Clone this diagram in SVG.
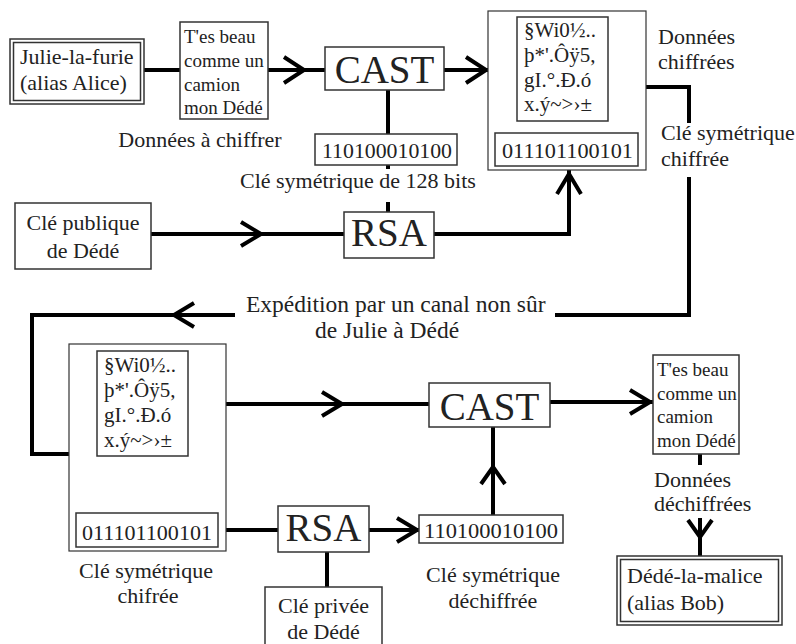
<svg xmlns="http://www.w3.org/2000/svg" width="796" height="644" viewBox="0 0 796 644" font-family="Liberation Serif">
<style>
  text { fill: #222; font-family: "Liberation Serif", "Times New Roman", serif; }
  .lbl { font-size: 22px; }
  .lbl2 { font-size: 23.5px; }
  .small { font-size: 19px; }
  .enc { font-size: 21px; }
  .key { font-size: 22px; }
  .big { font-size: 39px; text-anchor: middle; }
  .mid { text-anchor: middle; }
  .box { fill: #fff; stroke: #333; stroke-width: 1.5; }
  .thin { fill: #fff; stroke: #333; stroke-width: 1.2; }
  .ln { fill: none; stroke: #000; stroke-width: 4; }
  .chev { fill: none; stroke: #000; stroke-width: 4; stroke-linejoin: miter; }
</style>
<rect width="796" height="644" fill="#fff"/>

<g id="connectors">
  <path class="ln" d="M144,70 H180"/>
  <path class="ln" d="M268,70 H325"/>
  <polyline class="chev" points="284,57 304,70 284,83"/>
  <path class="ln" d="M444,70 H488"/>
  <polyline class="chev" points="466,57 486,70 466,83"/>
  <path class="ln" d="M388,90 V134"/>
  <path class="ln" d="M388,165 V169"/>
  <path class="ln" d="M388,202 V212"/>
  <path class="ln" d="M151,234 H344"/>
  <polyline class="chev" points="241,222 261,234 241,246"/>
  <path class="ln" d="M434,234 H569 V170"/>
  <polyline class="chev" points="557,194 569,174 581,194"/>
  <path class="ln" d="M646,87 H689 V123"/>
  <path class="ln" d="M689,177 V315 H555"/>
  <path class="ln" d="M235,315 H32 V454 H69"/>
  <polyline class="chev" points="194,303 174,315 194,327"/>
  <path class="ln" d="M226,404 H429"/>
  <polyline class="chev" points="322,392 342,404 322,416"/>
  <path class="ln" d="M550,402 H653"/>
  <polyline class="chev" points="630,390 650,402 630,414"/>
  <path class="ln" d="M226,530 H278"/>
  <path class="ln" d="M369,530 H419"/>
  <polyline class="chev" points="397,518 417,530 397,542"/>
  <path class="ln" d="M327,552 V587"/>
  <path class="ln" d="M493,515 V427"/>
  <polyline class="chev" points="481,484 493,467 505,484"/>
  <path class="ln" d="M700,454 V465"/>
  <path class="ln" d="M700,518 V557"/>
  <polyline class="chev" points="688,520 700,537 712,520"/>
</g>

<g id="julie">
  <rect class="box" x="10" y="39" width="134" height="65"/>
  <rect class="box" x="13.5" y="42.5" width="127" height="58" fill="none"/>
  <text class="lbl" x="20" y="64">Julie-la-furie</text>
  <text class="lbl" x="20" y="90">(alias Alice)</text>
</g>

<g id="donnees-claires">
  <rect class="box" x="180" y="22" width="88" height="97"/>
  <text class="small" x="184" y="43">T'es beau</text>
  <text class="small" x="184" y="67">comme un</text>
  <text class="small" x="184" y="91">camion</text>
  <text class="small" x="184" y="114">mon Dédé</text>
  <text class="lbl mid" x="200" y="147">Données à chiffrer</text>
</g>

<g id="cast1">
  <rect class="box" x="325" y="47" width="119" height="43"/>
  <text class="big" x="384.5" y="83">CAST</text>
</g>

<g id="cle-sym">
  <rect class="box" x="315" y="134" width="142" height="31"/>
  <text class="key" x="322" y="158" textLength="130" lengthAdjust="spacingAndGlyphs">110100010100</text>
  <text class="lbl" x="240" y="188">Clé symétrique de 128 bits</text>
</g>

<g id="cle-publique">
  <rect class="box" x="15" y="203" width="136" height="66"/>
  <text class="lbl mid" x="83" y="230">Clé publique</text>
  <text class="lbl mid" x="83" y="258">de Dédé</text>
</g>

<g id="rsa1">
  <rect class="box" x="344" y="212" width="90" height="46"/>
  <text class="big" x="389" y="246">RSA</text>
</g>

<g id="paquet1">
  <rect class="thin" x="488" y="11" width="158" height="159"/>
  <rect class="box" x="517" y="17" width="91" height="104"/>
  <text class="enc" x="524" y="37">§Wi0½..</text>
  <text class="enc" x="524" y="62">þ*'.Ôÿ5,</text>
  <text class="enc" x="524" y="87">gI.°.Ð.ó</text>
  <text class="enc" x="524" y="111">x.ý~&gt;›±</text>
  <rect class="box" x="495" y="133" width="143" height="33"/>
  <text class="key" x="502" y="158" textLength="131" lengthAdjust="spacingAndGlyphs">011101100101</text>
  <text class="lbl" x="658" y="44">Données</text>
  <text class="lbl" x="658" y="69">chiffrées</text>
  <text class="lbl" x="661" y="140">Clé symétrique</text>
  <text class="lbl" x="661" y="166">chiffrée</text>
</g>

<g id="expedition">
  <text class="lbl2" x="246" y="312">Expédition par un canal non sûr</text>
  <text class="lbl2" x="315" y="338">de Julie à Dédé</text>
</g>

<g id="paquet2">
  <rect class="thin" x="69" y="344" width="157" height="207"/>
  <rect class="box" x="97" y="351" width="91" height="105"/>
  <text class="enc" x="104" y="372">§Wi0½..</text>
  <text class="enc" x="104" y="397">þ*'.Ôÿ5,</text>
  <text class="enc" x="104" y="422">gI.°.Ð.ó</text>
  <text class="enc" x="104" y="447">x.ý~&gt;›±</text>
  <rect class="box" x="76" y="513" width="142" height="34"/>
  <text class="key" x="82" y="540" textLength="130" lengthAdjust="spacingAndGlyphs">011101100101</text>
  <text class="lbl mid" x="146" y="578">Clé symétrique</text>
  <text class="lbl mid" x="148" y="603">chifrée</text>
</g>

<g id="cast2">
  <rect class="box" x="429" y="383" width="121" height="44"/>
  <text class="big" x="489.5" y="420">CAST</text>
</g>

<g id="rsa2">
  <rect class="box" x="278" y="506" width="91" height="46"/>
  <text class="big" x="323.5" y="541">RSA</text>
</g>

<g id="cle-privee">
  <rect class="box" x="265" y="587" width="117" height="64"/>
  <text class="lbl mid" x="323.5" y="613">Clé privée</text>
  <text class="lbl mid" x="323.5" y="639">de Dédé</text>
</g>

<g id="cle-dechiffree">
  <rect class="box" x="419" y="515" width="144" height="28"/>
  <text class="key" x="424" y="538" textLength="134" lengthAdjust="spacingAndGlyphs">110100010100</text>
  <text class="lbl mid" x="493" y="582">Clé symétrique</text>
  <text class="lbl mid" x="493" y="608">déchiffrée</text>
</g>

<g id="donnees-dechiffrees">
  <rect class="box" x="653" y="355" width="86" height="99"/>
  <text class="small" x="657" y="376">T'es beau</text>
  <text class="small" x="657" y="400">comme un</text>
  <text class="small" x="657" y="423">camion</text>
  <text class="small" x="657" y="447">mon Dédé</text>
  <text class="lbl" x="654" y="487">Données</text>
  <text class="lbl" x="654" y="511">déchiffrées</text>
</g>

<g id="bob">
  <rect class="box" x="617" y="556" width="165" height="69"/>
  <rect class="box" x="620.5" y="559.5" width="158" height="62" fill="none"/>
  <text class="lbl" x="627" y="583">Dédé-la-malice</text>
  <text class="lbl" x="627" y="610">(alias Bob)</text>
</g>
</svg>
